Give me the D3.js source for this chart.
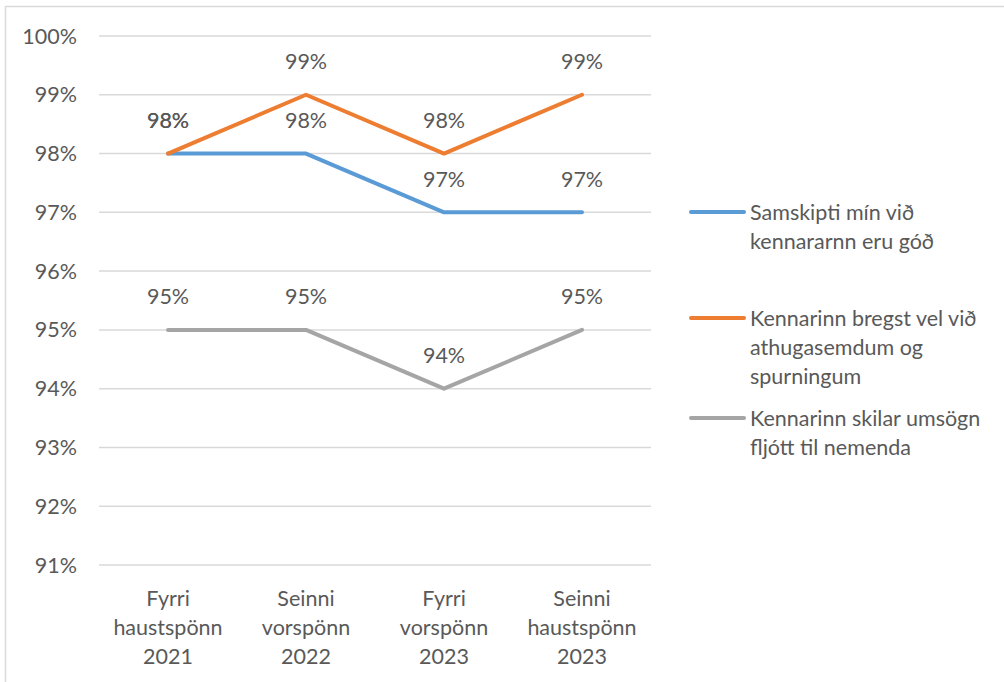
<!DOCTYPE html>
<html>
<head>
<meta charset="utf-8">
<script src="https://cdn.jsdelivr.net/npm/d3@7"></script>
<style>
  body { margin: 0; background: #fff; font-family: Lato, "Open Sans", sans-serif; }
  text { fill: #595959; }
</style>
</head>
<body>
<div id="chart"></div>
<script>
// data
let categories = [
  ["Fyrri", "haustspönn", "2021"],
  ["Seinni", "vorspönn", "2022"],
  ["Fyrri", "vorspönn", "2023"],
  ["Seinni", "haustspönn", "2023"]
];
let seriesNames = [
  ["Samskipti mín við", "kennararnn eru góð"],
  ["Kennarinn bregst vel við", "athugasemdum og", "spurningum"],
  ["Kennarinn skilar umsögn", "fljótt til nemenda"]
];
let blueValues = [0.98, 0.98, 0.97, 0.97];
let orangeValues = [0.98, 0.99, 0.98, 0.99];
let grayValues = [0.95, 0.95, 0.94, 0.95];
let yTicks = [0.91, 0.92, 0.93, 0.94, 0.95, 0.96, 0.97, 0.98, 0.99, 1.00];
let colors = ["#5B9BD5", "#ED7D31", "#A5A5A5"];

let series = [blueValues, orangeValues, grayValues];

let width = 1004, height = 682;
let margin = { left: 99, right: 353, top: 36, bottom: 117 };
let fs = 21.5;

let svg = d3.select("#chart").append("svg")
  .attr("width", width).attr("height", height);

// outer chart border (cropped on right/bottom)
svg.append("rect")
  .attr("x", 5.5).attr("y", 6.5)
  .attr("width", 1010).attr("height", 700)
  .attr("fill", "none").attr("stroke", "#D9D9D9").attr("stroke-width", 1.5);

let x = d3.scaleBand()
  .domain(d3.range(categories.length))
  .range([margin.left, width - margin.right]);

let y = d3.scaleLinear()
  .domain([0.91, 1.00])
  .range([height - margin.bottom, margin.top]);

// gridlines
svg.append("g")
  .selectAll("line")
  .data(yTicks)
  .join("line")
  .attr("x1", margin.left).attr("x2", width - margin.right)
  .attr("y1", d => y(d)).attr("y2", d => y(d))
  .attr("stroke", "#D9D9D9").attr("stroke-width", 1.5);

// y tick labels
svg.append("g")
  .selectAll("text")
  .data(yTicks)
  .join("text")
  .attr("x", 77)
  .attr("y", d => y(d))
  .attr("dy", "0.35em")
  .attr("text-anchor", "end")
  .attr("font-size", fs)
  .text(d => d3.format(".0%")(d));

// x labels
let xl = svg.append("g")
  .selectAll("text")
  .data(categories)
  .join("text")
  .attr("text-anchor", "middle")
  .attr("font-size", fs);
xl.selectAll("tspan")
  .data((d, i) => d.map(t => ({ t, i })))
  .join("tspan")
  .attr("x", d => x(d.i) + x.bandwidth() / 2)
  .attr("y", (d, j) => 606 + j * 29)
  .text(d => d.t);

let line = d3.line()
  .x((d, i) => x(i) + x.bandwidth() / 2)
  .y(d => y(d));

// lines, gray first so orange/blue on top
[2, 0, 1].forEach(s => {
  svg.append("path")
    .datum(series[s])
    .attr("d", line)
    .attr("fill", "none")
    .attr("stroke", colors[s])
    .attr("stroke-width", 4)
    .attr("stroke-linejoin", "round")
    .attr("stroke-linecap", "round");
});

// data labels
series.forEach((vals, s) => {
  svg.append("g")
    .selectAll("text")
    .data(vals)
    .join("text")
    .attr("x", (d, i) => x(i) + x.bandwidth() / 2)
    .attr("y", d => y(d) - 33)
    .attr("dy", "0.35em")
    .attr("text-anchor", "middle")
    .attr("font-size", fs)
    .text(d => d3.format(".0%")(d));
});

// legend
let legendY = [212, 318, 418];
seriesNames.forEach((lines, s) => {
  let g = svg.append("g");
  g.append("line")
    .attr("x1", 691).attr("x2", 744)
    .attr("y1", legendY[s]).attr("y2", legendY[s])
    .attr("stroke", colors[s]).attr("stroke-width", 4)
    .attr("stroke-linecap", "round");
  g.append("text")
    .attr("font-size", fs)
    .selectAll("tspan")
    .data(lines)
    .join("tspan")
    .attr("x", 750)
    .attr("y", (d, j) => legendY[s] + 8 + j * 29)
    .text(d => d);
});
</script>
</body>
</html>
